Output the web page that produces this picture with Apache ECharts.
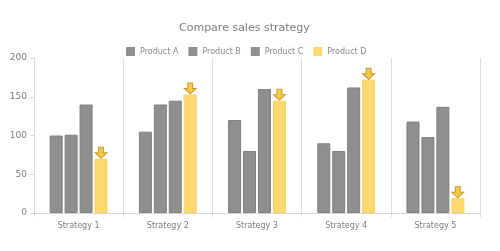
<!DOCTYPE html>
<html><head><meta charset="utf-8">
<script src="https://cdn.jsdelivr.net/npm/echarts@6/dist/echarts.min.js"></script>
<style>html,body{margin:0;padding:0;background:#fff}#c{width:500px;height:251px}</style>
</head><body><div id="c"></div>
<script>
const categories = ['Strategy 1','Strategy 2','Strategy 3','Strategy 4','Strategy 5'];
const productA = [100, 105, 120, 90, 118];
const productB = [101, 140, 80, 80, 98];
const productC = [140, 145, 160, 162, 137];
const productD = [70, 153, 145, 172, 19];
const yTicks = [0, 50, 100, 150, 200];

const gray = '#8f8f8f';
const yellow = '#ffd970';
const arrow = 'path://M3,0 L7,0 L7,5 L10,5 L5,10 L0,5 L3,5 Z';
const font = 'DejaVu Sans';

function bar(name, data, color, border) {
  return {
    name, type: 'bar', data, barWidth: 13, barGap: '15%',
    itemStyle: { color, borderColor: border, borderWidth: 1 }
  };
}
const seriesD = bar('Product D', productD, yellow, '#f7d260');
seriesD.markPoint = {
  symbol: arrow, symbolSize: [12, 11], symbolOffset: [0, -6],
  label: { show: false },
  itemStyle: { color: '#f7c948', borderColor: '#c99a2a', borderWidth: 1 },
  data: productD.map((v, i) => ({ coord: [i, v] }))
};

const chart = echarts.init(document.getElementById('c'));
chart.setOption({
  animation: false,
  textStyle: { fontFamily: font },
  title: { text: 'Compare sales strategy', left: 174, top: 18,
    textStyle: { fontFamily: font, fontSize: 11, fontWeight: 'normal', color: '#7d7d7d' } },
  legend: { top: 42, left: 121, itemWidth: 9, itemHeight: 9, itemGap: 10,
    icon: 'rect', itemStyle: { borderWidth: 0 },
    textStyle: { fontFamily: font, fontSize: 8, color: '#8a8a8a' },
    data: ['Product A','Product B','Product C','Product D'] },
  grid: { left: 34, right: 20, top: 58, bottom: 38 },
  xAxis: {
    type: 'category', data: categories,
    axisLine: { lineStyle: { color: '#d8d8d8' } },
    axisTick: { show: true, length: 4, lineStyle: { color: '#d8d8d8' } },
    splitLine: { show: true, lineStyle: { color: '#e0e0e0' } },
    axisLabel: { color: '#7d7d7d', fontSize: 8, fontFamily: font, margin: 9 }
  },
  yAxis: {
    type: 'value', min: 0, max: 200, interval: 50,
    axisLine: { show: true, lineStyle: { color: '#d8d8d8' } },
    axisTick: { show: true, length: 4, lineStyle: { color: '#d8d8d8' } },
    splitLine: { show: false },
    axisLabel: { color: '#7d7d7d', fontSize: 9, fontFamily: font, margin: 7,
      formatter: v => yTicks.includes(v) ? String(v) : '' }
  },
  series: [
    bar('Product A', productA, gray, '#808080'),
    bar('Product B', productB, gray, '#808080'),
    bar('Product C', productC, gray, '#808080'),
    seriesD
  ]
});
</script></body></html>
